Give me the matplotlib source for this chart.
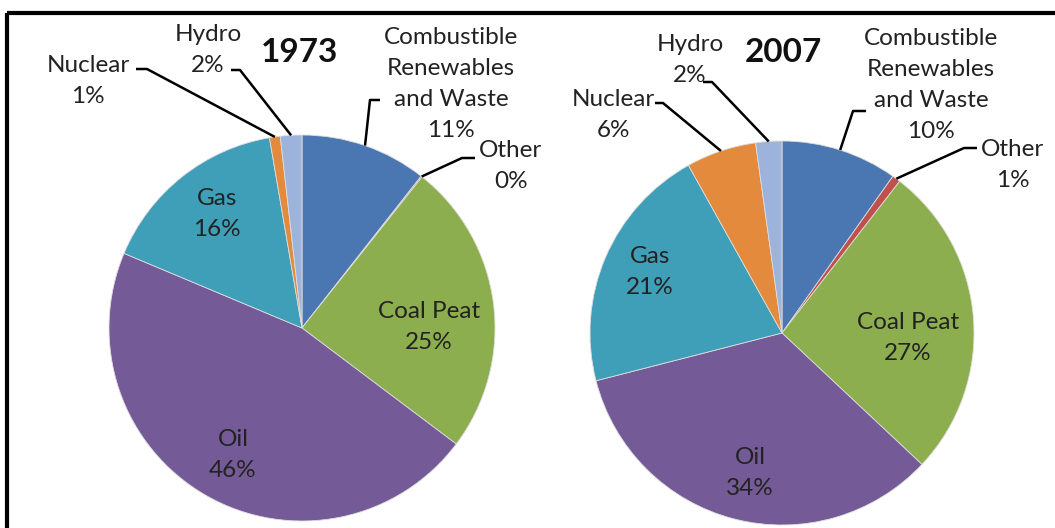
import matplotlib
matplotlib.use('Agg')
import matplotlib.pyplot as plt
import numpy as np

# Data
sources = ['Combustible\nRenewables\nand Waste', 'Other', 'Coal Peat', 'Oil', 'Gas', 'Nuclear', 'Hydro']
share_1973 = [10.6, 0.1, 24.6, 46.1, 16.0, 0.9, 1.8]
share_2007 = [9.8, 0.7, 26.5, 34.0, 20.9, 5.9, 2.2]
pct_1973 = ['11%', '0%', '25%', '46%', '16%', '1%', '2%']
pct_2007 = ['10%', '1%', '27%', '34%', '21%', '6%', '2%']
colors = ['#4A77B2', '#C0504D', '#8DAE4E', '#745A96', '#3F9EB8', '#E38A3C', '#9EB3DC']

W, H = 1055, 528
plt.rcParams['font.family'] = ['Lato', 'DejaVu Sans']
fig = plt.figure(figsize=(W / 100, H / 100), dpi=100)
ax = fig.add_axes([0, 0, 1, 1])
ax.set_xlim(0, W)
ax.set_ylim(0, H)
ax.set_aspect('equal')
ax.axis('off')

FS = 17.5
LS = 1.6


def Y(py):
    return H - py


def draw_pie(vals, pcts, cx, cy, r, title, tx, inside, outside):
    wedges, _ = ax.pie(vals, colors=colors, startangle=90, counterclock=False,
                       center=(cx, Y(cy)), radius=r, frame=True,
                       wedgeprops=dict(linewidth=0.6, edgecolor='#dddddd'))
    ax.text(tx, Y(52), title, fontsize=24, fontweight='bold', ha='center', va='center', color='#111111')
    for i, w in enumerate(wedges):
        lab = sources[i] + '\n' + pcts[i]
        if i in inside:
            x, y = inside[i]
        else:
            x, y, ex, ey, hx = outside[i]
            ang = np.deg2rad((w.theta1 + w.theta2) / 2)
            ax0, ay0 = cx + r * np.cos(ang), Y(cy) + r * np.sin(ang)
            ax.plot([ax0, ex, hx], [ay0, Y(ey), Y(ey)], color='black', lw=1.8, solid_capstyle='butt')
        ax.text(x, Y(y), lab, fontsize=FS, ha='center', va='center', color='#222222', linespacing=LS)


draw_pie(share_1973, pct_1973, 302, 328, 193, '1973', 300,
         inside={2: (429, 327), 3: (233, 455), 4: (217, 214)},
         outside={0: (451, 84, 370, 100, 380),
                  1: (511, 166, 462, 158, 475),
                  5: (88, 81, 147, 69, 136),
                  6: (208, 50, 240, 70, 231)})
draw_pie(share_2007, pct_2007, 782, 333, 192, '2007', 783,
         inside={2: (908, 338), 3: (750, 473), 4: (650, 272)},
         outside={0: (931, 85, 853, 111, 866),
                  1: (1013, 165, 964, 148, 977),
                  5: (613, 115, 663, 103, 655),
                  6: (690, 60, 712, 82, 703)})

ax.set_xlim(0, W)
ax.set_ylim(0, H)

# frame (top and left visible)
ax.plot([7, W], [Y(13), Y(13)], color='black', lw=3, solid_capstyle='butt')
ax.plot([7, 7], [Y(13), 0], color='black', lw=3, solid_capstyle='butt')

fig.savefig('out.png', dpi=100, facecolor='white')
